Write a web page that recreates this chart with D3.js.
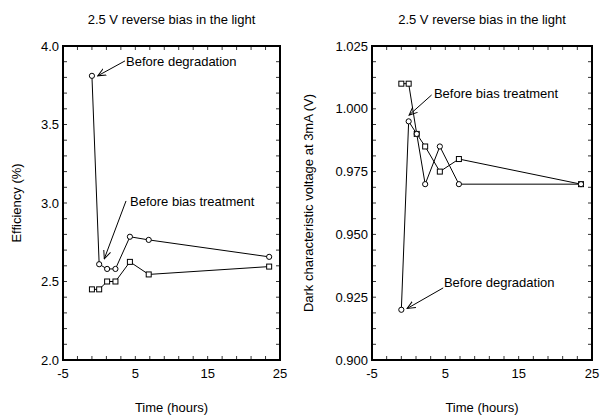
<!DOCTYPE html>
<html>
<head>
<meta charset="utf-8">
<script src="https://cdn.jsdelivr.net/npm/d3@7"></script>
<style>
  body { margin: 0; background: #fff; }
  text { font-family: Arial, "Liberation Sans", sans-serif; fill: #000; }
</style>
</head>
<body>
<svg width="605" height="416"></svg>
<script>
// data
const times = [-1, 0, 1.1, 2.25, 4.25, 6.85, 23.5];

// left panel: efficiency (%)
const effCircles = [3.81, 2.61, 2.58, 2.58, 2.785, 2.765, 2.657];
const effSquares = [2.45, 2.45, 2.50, 2.50, 2.625, 2.545, 2.595];

// right panel: dark characteristic voltage at 3mA (V)
const voltCircles = [0.920, 0.995, 0.990, 0.970, 0.985, 0.970, 0.970];
const voltSquares = [1.010, 1.010, 0.990, 0.985, 0.975, 0.980, 0.970];

const xTicks = [-5, 5, 15, 25];
const effTicks = [2.0, 2.5, 3.0, 3.5, 4.0];
const voltTicks = [0.900, 0.925, 0.950, 0.975, 1.000, 1.025];

// annotations: [text, textX, textY, arrowFromX, arrowFromY, arrowToX, arrowToY] in data units
const effNotes = [
  ["Before degradation", 3.71, 3.90, 3.57, 3.905, -0.2, 3.81],
  ["Before bias treatment", 4.27, 3.008, 3.71, 3.013, 0.71, 2.645]
];
const voltNotes = [
  ["Before bias treatment", 3.44, 1.006, 3.13, 1.0055, 0.06, 0.9975],
  ["Before degradation", 4.81, 0.9308, 4.71, 0.9287, -0.21, 0.9205]
];

const svg = d3.select("svg");

// open arrow head
svg.append("defs").append("marker")
  .attr("id", "arrow")
  .attr("viewBox", "0 0 10 10")
  .attr("refX", 9).attr("refY", 5)
  .attr("markerWidth", 9).attr("markerHeight", 9)
  .attr("markerUnits", "userSpaceOnUse")
  .attr("orient", "auto")
  .append("path")
  .attr("d", "M0,1 L9,5 L0,9")
  .attr("fill", "none")
  .attr("stroke", "#000")
  .attr("stroke-width", 1.1);

function drawPanel(opt) {
  const g = svg.append("g");
  const x = d3.scaleLinear().domain([-5, 25]).range([opt.left, opt.right]);
  const y = d3.scaleLinear().domain(opt.yDomain).range([360, 46]);

  // title
  g.append("text")
    .attr("x", (opt.left + opt.right) / 2)
    .attr("y", 24)
    .attr("text-anchor", "middle")
    .style("font-size", "13px")
    .text("2.5 V reverse bias in the light");

  // minor ticks, inward on all four sides
  const xMinor = d3.range(-5, 25.01, 2);
  const yMinor = d3.range(opt.yDomain[0], opt.yDomain[1] + opt.yStep / 2, opt.yStep);
  g.selectAll(".xb").data(xMinor).enter().append("line")
    .attr("x1", d => x(d)).attr("x2", d => x(d))
    .attr("y1", 360).attr("y2", 356)
    .attr("stroke", "#000").attr("stroke-width", 0.8);
  g.selectAll(".xt").data(xMinor).enter().append("line")
    .attr("x1", d => x(d)).attr("x2", d => x(d))
    .attr("y1", 46).attr("y2", 50)
    .attr("stroke", "#000").attr("stroke-width", 0.8);
  g.selectAll(".yl").data(yMinor).enter().append("line")
    .attr("x1", opt.left).attr("x2", opt.left + 4)
    .attr("y1", d => y(d)).attr("y2", d => y(d))
    .attr("stroke", "#000").attr("stroke-width", 0.8);
  g.selectAll(".yr").data(yMinor).enter().append("line")
    .attr("x1", opt.right).attr("x2", opt.right - 4)
    .attr("y1", d => y(d)).attr("y2", d => y(d))
    .attr("stroke", "#000").attr("stroke-width", 0.8);

  // frame
  g.append("rect")
    .attr("x", opt.left).attr("y", 46)
    .attr("width", opt.right - opt.left).attr("height", 314)
    .attr("fill", "none").attr("stroke", "#000").attr("stroke-width", 2);

  // tick labels
  g.selectAll(".xl").data(xTicks).enter().append("text")
    .attr("x", d => x(d)).attr("y", 378)
    .attr("text-anchor", "middle")
    .style("font-size", "13px")
    .text(d => d);
  g.selectAll(".ylab").data(opt.yTicks).enter().append("text")
    .attr("x", opt.left - 4).attr("y", d => y(d))
    .attr("dy", "0.36em")
    .attr("text-anchor", "end")
    .style("font-size", "13px")
    .text(d => opt.fmt(d));

  // axis titles
  g.append("text")
    .attr("x", (opt.left + opt.right) / 2).attr("y", 412)
    .attr("text-anchor", "middle")
    .style("font-size", "13px")
    .text("Time (hours)");
  g.append("text")
    .attr("transform", `translate(${opt.yLabelX},203) rotate(-90)`)
    .attr("text-anchor", "middle")
    .style("font-size", "13px")
    .text(opt.yLabel);

  // series
  const line = d3.line().x(d => x(d[0])).y(d => y(d[1]));
  const circ = times.map((t, i) => [t, opt.circles[i]]);
  const sq = times.map((t, i) => [t, opt.squares[i]]);
  [circ, sq].forEach(s => {
    g.append("path").datum(s)
      .attr("d", line)
      .attr("fill", "none").attr("stroke", "#000").attr("stroke-width", 1);
  });
  g.selectAll(".sq").data(sq).enter().append("rect")
    .attr("x", d => x(d[0]) - 2.5).attr("y", d => y(d[1]) - 2.5)
    .attr("width", 5).attr("height", 5)
    .attr("fill", "#fff").attr("stroke", "#000").attr("stroke-width", 1);
  g.selectAll(".ci").data(circ).enter().append("circle")
    .attr("cx", d => x(d[0])).attr("cy", d => y(d[1]))
    .attr("r", 2.6)
    .attr("fill", "#fff").attr("stroke", "#000").attr("stroke-width", 1);

  // annotations
  opt.notes.forEach(n => {
    g.append("text")
      .attr("x", x(n[1])).attr("y", y(n[2]))
      .attr("dy", "0.36em")
      .style("font-size", "13px")
      .text(n[0]);
    g.append("line")
      .attr("x1", x(n[3])).attr("y1", y(n[4]))
      .attr("x2", x(n[5])).attr("y2", y(n[6]))
      .attr("stroke", "#000").attr("stroke-width", 1)
      .attr("marker-end", "url(#arrow)");
  });
}

drawPanel({
  left: 63, right: 280,
  yDomain: [2.0, 4.0], yStep: 0.1, yTicks: effTicks,
  fmt: d3.format(".1f"),
  yLabel: "Efficiency (%)", yLabelX: 21,
  circles: effCircles, squares: effSquares, notes: effNotes
});

drawPanel({
  left: 372, right: 592,
  yDomain: [0.900, 1.025], yStep: 0.00625, yTicks: voltTicks,
  fmt: d3.format(".3f"),
  yLabel: "Dark characteristic voltage at 3mA (V)", yLabelX: 313,
  circles: voltCircles, squares: voltSquares, notes: voltNotes
});
</script>
</body>
</html>
